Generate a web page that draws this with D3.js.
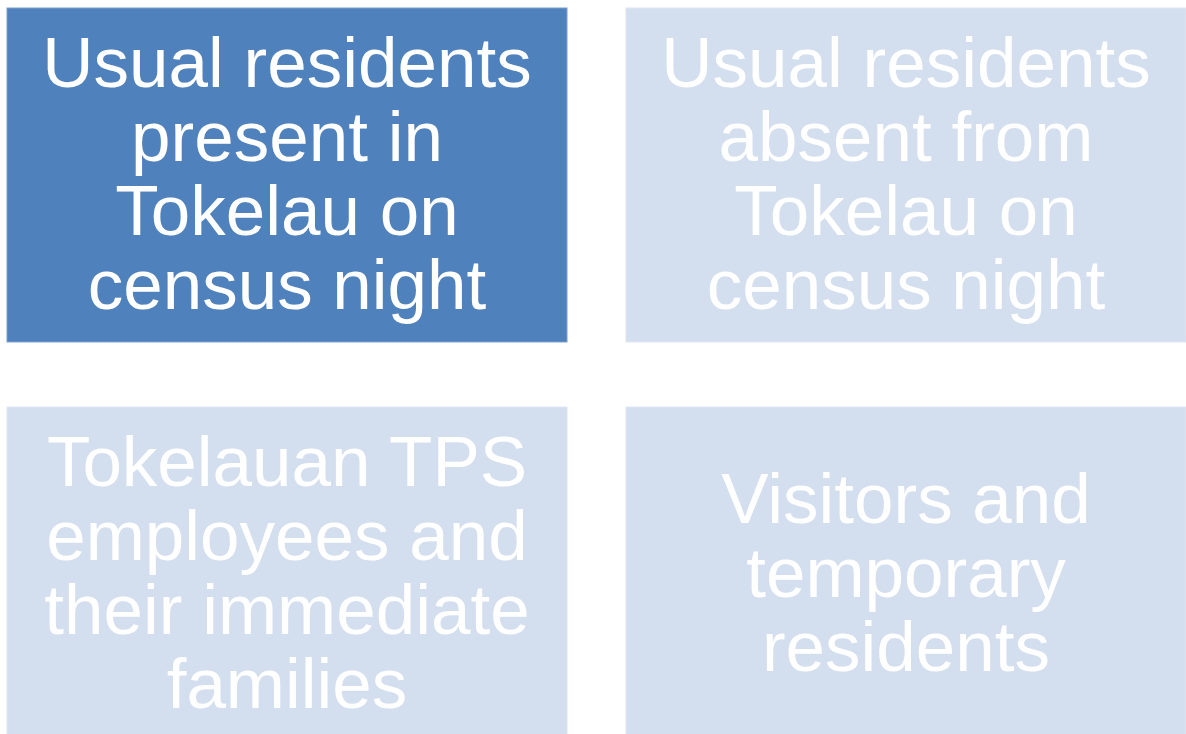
<!DOCTYPE html>
<html>
<head>
<meta charset="utf-8">
<script src="https://cdn.jsdelivr.net/npm/d3@7"></script>
<style>
  body { margin: 0; background: #fff; overflow: hidden; }
  text { font-family: "Liberation Sans", Arial, sans-serif; }
</style>
</head>
<body>
<svg id="chart" width="1186" height="734"></svg>
<script>
// categories, in reading order
var categories = [
  ["Usual residents", "present in", "Tokelau on", "census night"],
  ["Usual residents", "absent from", "Tokelau on", "census night"],
  ["Tokelauan TPS", "employees and", "their immediate", "families"],
  ["Visitors and", "temporary", "residents"]
];
var highlighted = [true, false, false, false];
var cols = [0, 1, 0, 1];
var rows = [0, 0, 1, 1];

var svg = d3.select("#chart");

var x = d3.scaleBand().domain([0, 1]).range([7, 1186]).paddingInner(0.0953);
var y = d3.scaleBand().domain([0, 1]).range([8, 741]).paddingInner(0.163);

var data = categories.map(function(lines, i) {
  return { lines: lines, on: highlighted[i], col: cols[i], row: rows[i] };
});

var cell = svg.selectAll(".cell")
    .data(data)
    .enter()
  .append("g")
    .attr("class", "cell")
    .attr("transform", function(d) { return "translate(" + x(d.col) + "," + y(d.row) + ")"; });

cell.append("rect")
    .attr("width", x.bandwidth())
    .attr("height", y.bandwidth())
    .attr("fill", function(d) { return d.on ? "#4f81bd" : "#d3deee"; })
    .attr("stroke", function(d) { return d.on ? "#7aa0cf" : "#dfe7f3"; })
    .attr("stroke-width", 1);

var lineH = 74;

cell.append("text")
    .attr("text-anchor", "middle")
    .attr("fill", "#fff")
    .style("font-size", "71px")
    .selectAll("tspan")
    .data(function(d) { return d.lines.map(function(t, i) { return { t: t, i: i, n: d.lines.length }; }); })
    .enter()
  .append("tspan")
    .attr("x", x.bandwidth() / 2)
    .attr("y", function(d) { return y.bandwidth() / 2 - 2 + (d.i - (d.n - 1) / 2) * lineH; })
    .attr("dy", "0.35em")
    .text(function(d) { return d.t; });
</script>
</body>
</html>
